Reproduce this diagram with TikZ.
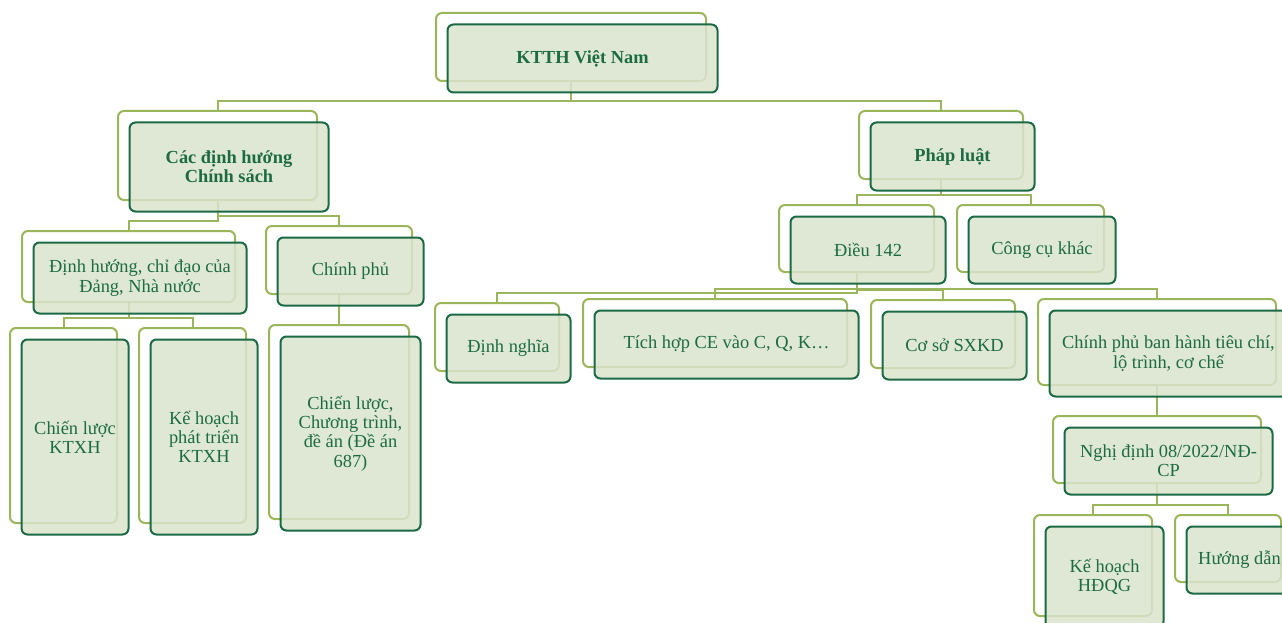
\documentclass[tikz,border=0pt]{standalone}
\usepackage{fontspec}
\setmainfont{Liberation Serif}
\usetikzlibrary{calc}

\definecolor{frameolive}{HTML}{9AB55A}
\definecolor{boxline}{HTML}{1B6A45}
\definecolor{boxtext}{HTML}{1C6B43}
\definecolor{boxfill}{RGB}{218,228,205}

\pgfdeclarelayer{links}
\pgfsetlayers{links,main}

\tikzset{
  backframe/.style={draw=frameolive, line width=2pt, rounded corners=6pt,
    fill=white, inner sep=0pt, outer sep=0pt, anchor=north west},
  frontbox/.style={draw=boxline, line width=2pt, rounded corners=6pt,
    fill=boxfill, fill opacity=0.85, text opacity=1, text=boxtext,
    inner sep=2pt, outer sep=0pt, anchor=north west, align=center,
    font=\fontsize{18.4}{19.3}\selectfont},
  link/.style={draw=frameolive, line width=2pt},
}

% a box: outline frame behind, filled box in front, shifted down-right
% #1 name, #2 x, #3 y (top-left of frame), #4 width, #5 height, #6 text
\newcommand\orgpair[6]{%
  \node[backframe, minimum width=#4pt, minimum height=#5pt] (#1B) at (#2,#3) {};
  \node[frontbox, minimum width=#4pt, minimum height=#5pt] (#1) at ($(#2,#3)+(11.5,11.5)$) {#6};
}
% elbow link from the frame of a parent to the frame of a child
\newcommand\orglink[2]{%
  \draw[link] (#1B.south) |- ([yshift=10pt]#2B.north) -- (#2B.north);
}

\begin{document}
\begin{tikzpicture}[x=1pt, y=-1pt]
  \useasboundingbox (0,0) rectangle (1282,623);

  % level 1
  \orgpair{root}{436}{13}{270}{68}{\bfseries KTTH Việt Nam}
  % level 2
  \orgpair{policy}{118}{111}{199}{89}{\bfseries Các định hướng\\\bfseries Chính sách}
  \orgpair{law}{859}{111}{164}{68}{\bfseries Pháp luật}
  % policy branch
  \orgpair{party}{22}{231}{213}{71}{Định hướng, chỉ đạo của\\Đảng, Nhà nước}
  \orgpair{gov}{266}{226}{146}{68}{Chính phủ}
  \orgpair{strat}{10}{328}{107}{195}{Chiến lược\\KTXH}
  \orgpair{plan}{139}{328}{107}{195}{Kế hoạch\\phát triển\\KTXH}
  \orgpair{prog}{269}{325}{140}{194}{Chiến lược,\\Chương trình,\\đề án (Đề án\\687)}
  % law branch
  \orgpair{art}{779}{205}{155}{67}{Điều 142}
  \orgpair{tools}{957}{205}{147}{67}{Công cụ khác}
  \orgpair{defn}{435}{303}{124}{68}{Định nghĩa}
  \orgpair{integ}{583}{299}{264}{68}{Tích hợp CE vào C, Q, K…}
  \orgpair{firm}{871}{300}{144}{68}{Cơ sở SXKD}
  \orgpair{crit}{1038}{299}{238}{86}{Chính phủ ban hành tiêu chí,\\lộ trình, cơ chế}
  \orgpair{decree}{1053}{416}{208}{67}{Nghị định 08/2022/NĐ-\\CP}
  \orgpair{natplan}{1034}{515}{118}{101}{Kế hoạch\\HĐQG}
  \orgpair{guide}{1175}{515}{106}{67}{Hướng dẫn}

  \begin{pgfonlayer}{links}
    \orglink{root}{policy}
    \orglink{root}{law}
    \orglink{policy}{party}
    \orglink{policy}{gov}
    \orglink{party}{strat}
    \orglink{party}{plan}
    \orglink{gov}{prog}
    \orglink{law}{art}
    \orglink{law}{tools}
    \orglink{art}{defn}
    \orglink{art}{integ}
    \orglink{art}{firm}
    \orglink{art}{crit}
    \orglink{crit}{decree}
    \orglink{decree}{natplan}
    \orglink{decree}{guide}
  \end{pgfonlayer}
\end{tikzpicture}
\end{document}
